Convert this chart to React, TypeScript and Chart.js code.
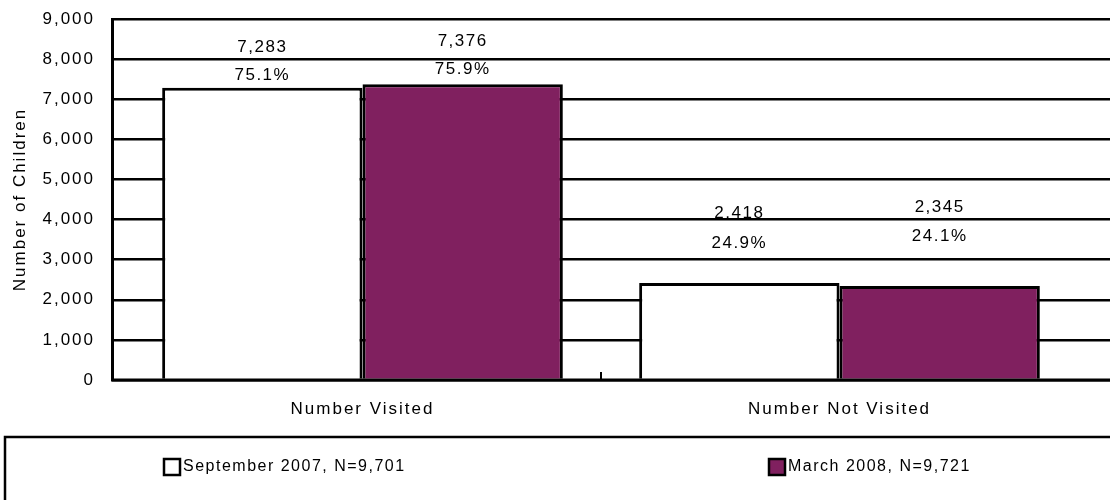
import React, { useEffect, useRef } from "react";
import { Chart, registerables } from "chart.js";

Chart.register(...registerables);

const categories = ["Number Visited", "Number Not Visited"];
const sept2007 = [7283, 2418];
const march2008 = [7376, 2345];
const septPct = ["75.1%", "24.9%"];
const marchPct = ["75.9%", "24.1%"];
const seriesLabels = ["September 2007, N=9,701", "March 2008, N=9,721"];
const seriesColors = ["#FFFFFF", "#80205F"];
const yMin = 0;
const yMax = 9000;
const yStep = 1000;
const yTitle = "Number of Children";

const FONT = "'Liberation Sans', Arial, sans-serif";

// plot frame (pixels)
const PLOT_TOP = 19;
const CAT_LEFT = 124;
const CAT_RIGHT = 1078;

const spacingPlugin = {
  id: "spacing",
  beforeDraw(chart: any) {
    chart.ctx.letterSpacing = "2px";
  },
};

const framePlugin = {
  id: "frame",
  afterLayout(chart: any) {
    const ys = chart.scales.y;
    const xs = chart.scales.x;
    ys.top = PLOT_TOP;
    ys.height = ys.bottom - PLOT_TOP;
    ys.configure();
    chart.chartArea.top = PLOT_TOP;
    chart.chartArea.height = chart.chartArea.bottom - PLOT_TOP;
    xs.left = CAT_LEFT;
    xs.right = CAT_RIGHT;
    xs.width = CAT_RIGHT - CAT_LEFT;
    xs.configure();
  },
};

const labelPlugin = {
  id: "valueLabels",
  afterDatasetsDraw(chart: any) {
    const ctx = chart.ctx;
    const pcts = [septPct, marchPct];
    const numOff = [
      [41, 70],
      [43, 79],
    ];
    const pctOff = [
      [13, 40],
      [15, 50],
    ];
    ctx.save();
    ctx.letterSpacing = "1.5px";
    ctx.font = `17px ${FONT}`;
    ctx.fillStyle = "#000";
    ctx.textAlign = "center";
    ctx.textBaseline = "middle";
    chart.data.datasets.forEach((ds: any, i: number) => {
      const meta = chart.getDatasetMeta(i);
      meta.data.forEach((el: any, j: number) => {
        const v = ds.data[j] as number;
        ctx.fillText(v.toLocaleString("en-US"), el.x, el.y - numOff[i][j]);
        ctx.fillText(pcts[i][j], el.x, el.y - pctOff[i][j]);
      });
    });
    // x axis line across the full plot width and category separator tick
    const ca = chart.chartArea;
    ctx.strokeStyle = "#000";
    ctx.lineWidth = 3;
    ctx.beginPath();
    ctx.moveTo(ca.left, ca.bottom);
    ctx.lineTo(ca.right, ca.bottom);
    ctx.stroke();
    const xs = chart.scales.x;
    const bx = (xs.getPixelForValue(0) + xs.getPixelForValue(1)) / 2;
    ctx.lineWidth = 2;
    ctx.beginPath();
    ctx.moveTo(bx, ca.bottom);
    ctx.lineTo(bx, ca.bottom - 8);
    ctx.stroke();
    ctx.restore();
  },
};

const legendPlugin = {
  id: "boxLegend",
  afterDraw(chart: any) {
    const ctx = chart.ctx;
    ctx.save();
    ctx.letterSpacing = "1.5px";
    ctx.strokeStyle = "#000";
    ctx.lineWidth = 2.5;
    ctx.strokeRect(5, 437, 1120, 100);
    const xs = [164, 769];
    ctx.font = `16px ${FONT}`;
    ctx.textBaseline = "middle";
    ctx.textAlign = "left";
    chart.data.datasets.forEach((ds: any, i: number) => {
      const x = xs[i];
      ctx.fillStyle = ds.backgroundColor;
      ctx.fillRect(x, 459, 16, 16);
      ctx.lineWidth = 2.5;
      ctx.strokeStyle = "#000";
      ctx.strokeRect(x, 459, 16, 16);
      ctx.fillStyle = "#000";
      ctx.fillText(ds.label, x + 19, 467);
    });
    ctx.restore();
  },
};

export default function App() {
  const ref = useRef<HTMLCanvasElement>(null);
  useEffect(() => {
    if (!ref.current) return;
    const chart = new Chart(ref.current, {
      type: "bar",
      data: {
        labels: categories,
        datasets: [
          {
            label: seriesLabels[0],
            data: sept2007,
            backgroundColor: seriesColors[0],
            borderColor: "#000",
            borderWidth: 3,
            categoryPercentage: 0.84,
            barPercentage: 1.0,
          },
          {
            label: seriesLabels[1],
            data: march2008,
            backgroundColor: seriesColors[1],
            borderColor: "#000",
            borderWidth: 3,
            categoryPercentage: 0.84,
            barPercentage: 1.0,
          },
        ],
      },
      options: {
        animation: false,
        responsive: false,
        maintainAspectRatio: false,
        layout: { padding: { top: 6, right: 0, bottom: 80, left: 0 } },
        plugins: {
          legend: { display: false },
          tooltip: { enabled: false },
        },
        scales: {
          x: {
            grid: { display: false, drawTicks: false },
            border: { display: false },
            ticks: {
              color: "#000",
              font: { family: FONT, size: 17 },
              padding: 19,
            },
            afterFit(scale: any) {
              scale.height = 40;
            },
          },
          y: {
            min: yMin,
            max: yMax,
            ticks: {
              stepSize: yStep,
              color: "#000",
              font: { family: FONT, size: 17 },
              padding: 17,
              callback: (v: any) => Number(v).toLocaleString("en-US"),
            },
            grid: { color: "#000", lineWidth: 2.5, drawTicks: false },
            border: { color: "#000", width: 3 },
            title: {
              display: true,
              text: yTitle,
              color: "#000",
              font: { family: FONT, size: 17 },
              padding: { top: 10, bottom: 0 },
            },
            afterFit(scale: any) {
              scale.width = 112;
            },
          },
        },
      },
      plugins: [spacingPlugin, framePlugin, labelPlugin, legendPlugin],
    });
    return () => chart.destroy();
  }, []);
  return (
    <div style={{ position: "absolute", left: 0, top: 0, width: 1110, height: 500, background: "#fff" }}>
      <canvas ref={ref} width={1110} height={500} style={{ width: 1110, height: 500 }} />
    </div>
  );
}
